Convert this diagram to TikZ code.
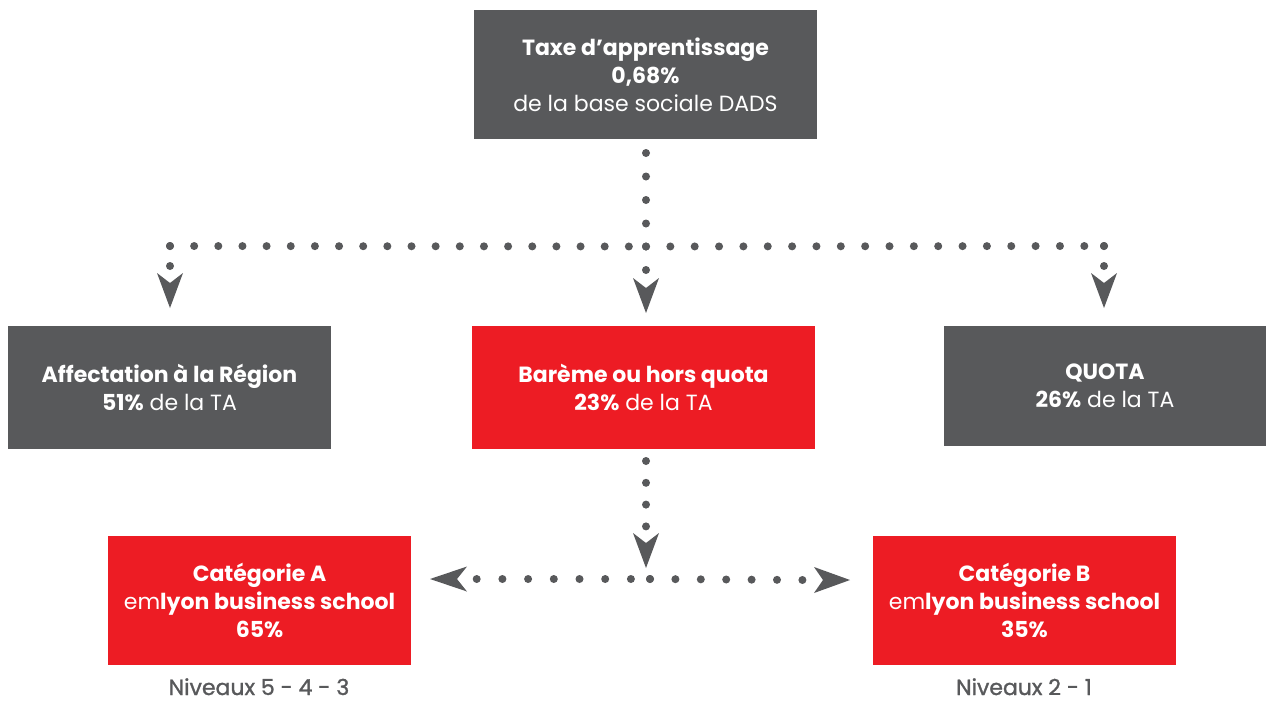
\documentclass[tikz,border=0pt]{standalone}
\usepackage{fontspec}
\setmainfont{Poppins}
\newfontfamily\medfont{Poppins}[FakeBold=1.2]
\usetikzlibrary{calc}
\definecolor{tgray}{HTML}{58595B}
\definecolor{tred}{HTML}{ED1C24}
\begin{document}
\begin{tikzpicture}[x=1pt,y=-1pt,
  box/.style={rectangle,inner sep=0pt,align=center,text=white,font=\fontsize{22}{28}\selectfont},
  graybox/.style={box,fill=tgray},
  redbox/.style={box,fill=tred},
  lbl/.style={text=tgray,inner sep=0pt,anchor=base,font=\medfont\fontsize{22}{24}\selectfont},
  dotline/.style={draw=tgray,line width=8pt,line cap=round},
  ahead/.style={fill=tgray},
  pics/arrdown/.style={code={\fill[ahead] (0,0) -- (-13,-35) -- (0,-25) -- (13,-35) -- cycle;}},
  pics/arrleft/.style={code={\fill[ahead] (0,0) -- (37,-12.5) -- (27,0) -- (37,12.5) -- cycle;}},
  pics/arrright/.style={code={\fill[ahead] (0,0) -- (-36,-13) -- (-27,0) -- (-36,13) -- cycle;}}
]
\useasboundingbox (0,0) rectangle (1266,702);
\fill[white] (0,0) rectangle (1266,702);

% boxes
\node[graybox,minimum width=343,minimum height=129] (top) at (645.5,74.5)
  {\textbf{Taxe d’apprentissage}\\\textbf{0,68\%}\\de la base sociale DADS};
\node[graybox,minimum width=323,minimum height=123] (aff) at (169.5,387.5)
  {\textbf{Affectation à la Région}\\\textbf{51\%} de la TA};
\node[redbox,minimum width=343,minimum height=123] (bar) at (643.5,387.5)
  {\textbf{Barème ou hors quota}\\\textbf{23\%} de la TA};
\node[graybox,minimum width=322,minimum height=120] (quota) at (1105,386)
  {\textbf{QUOTA}\\\textbf{26\%} de la TA};
\node[redbox,minimum width=303,minimum height=129] (catA) at (259.5,600.5)
  {\textbf{Catégorie A}\\em\textbf{lyon business school}\\\textbf{65\%}};
\node[redbox,minimum width=303,minimum height=129] (catB) at (1024.5,600.5)
  {\textbf{Catégorie B}\\em\textbf{lyon business school}\\\textbf{35\%}};
\node[lbl] (nivA) at (259,695) {Niveaux 5 - 4 - 3};
\node[lbl] (nivB) at (1024,695) {Niveaux 2 - 1};

% junction coordinates
\coordinate (vtop) at (646,153);
\coordinate (jmid) at (646,246.5);
\coordinate (jleft) at (170,246);
\coordinate (jright) at (1104,246);
\coordinate (tipL) at (170,308);
\coordinate (tipM) at (646,313);
\coordinate (tipR) at (1104,308);
\coordinate (vbot) at (646,461);
\coordinate (jbot) at (650,579);
\coordinate (tipB) at (646,568);
\coordinate (tipBL) at (430,579);
\coordinate (tipBR) at (850,580);

% dotted connectors
\draw[dotline,dash pattern=on 0pt off 23.5pt] (vtop) -- (jmid);
\draw[dotline,dash pattern=on 0pt off 24.15pt] (jleft) -- (jmid);
\draw[dotline,dash pattern=on 0pt off 24.35pt] (jmid) -- ($(jright)+(-15,0)$);
\draw[dotline,dash pattern=on 0pt off 20pt] (jright) -- ($(tipR)+(0,-40)$);
\draw[dotline,dash pattern=on 0pt off 20pt] (jleft) -- ($(tipL)+(0,-40)$);
\draw[dotline,dash pattern=on 0pt off 23.5pt] (jmid) -- ($(tipM)+(0,-40)$);
\draw[dotline] (jright) -- (jright);
\draw[dotline,dash pattern=on 0pt off 21.8pt] (vbot) -- ($(tipB)+(0,-40)$);
\draw[dotline,dash pattern=on 0pt off 25.7pt] ($(tipBL)+(46.7,0)$) -- ($(jbot)+(-15,0)$);
\draw[dotline,dash pattern=on 0pt off 25.4pt] (jbot) -- ($(tipBR)+(-46,0)$);
\draw[dotline] (jbot) -- (jbot);

% arrowheads
\pic at (tipL) {arrdown};
\pic at (tipM) {arrdown};
\pic at (tipR) {arrdown};
\pic at (tipB) {arrdown};
\pic at (tipBL) {arrleft};
\pic at (tipBR) {arrright};
\end{tikzpicture}
\end{document}
